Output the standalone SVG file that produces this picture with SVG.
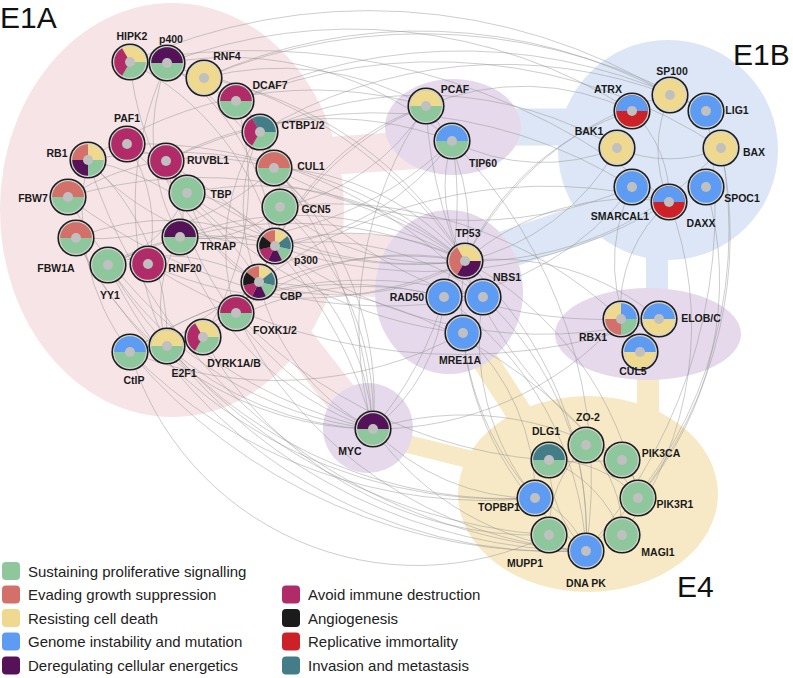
<svg xmlns="http://www.w3.org/2000/svg" xmlns:xlink="http://www.w3.org/1999/xlink" width="793" height="678" viewBox="0 0 793 678">
<style>
.lbl{font-family:"Liberation Sans",Arial,sans-serif;font-weight:bold;font-size:10.5px;fill:#1a1a1a;text-anchor:middle}
.big{font-family:"Liberation Sans",Arial,sans-serif;font-size:30px;fill:#111}
.leg{font-family:"Liberation Sans",Arial,sans-serif;font-size:15px;fill:#222}
.rim{fill:#d4d4d4;stroke:#1e1e1e;stroke-width:1.6}
.dot{fill:#c0c0c0}
#edges path{fill:none;stroke:#8f8f8f;stroke-width:0.6;stroke-opacity:0.75}
.G{fill:#8ec79c}.S{fill:#d4706a}.Y{fill:#efd98f}.B{fill:#5e9cf4}.P{fill:#561259}.M{fill:#b02b68}.K{fill:#1b1b1b}.R{fill:#cc2127}.T{fill:#437d87}
.pk{fill:#f7e4e6}.pks{stroke:#f7e4e6;fill:none;stroke-linecap:round}
.bl{fill:#dce6f6}.bls{stroke:#dce6f6;fill:none;stroke-linecap:round}
.yl{fill:#f7e9c6}.yls{stroke:#f7e9c6;fill:none;stroke-linecap:round}
.pu{fill:#e5d9eb}
</style>
<defs>
<circle id="f" r="15.8"/>
<path id="h" d="M-15.8 0A15.8 15.8 0 0 1 15.8 0Z"/>
<path id="t" d="M0 0L-7.9 -13.68A15.8 15.8 0 0 1 15.8 0Z"/>
<path id="q" d="M0 0L-15.8 0A15.8 15.8 0 0 1 0 -15.8Z"/>
<path id="s" d="M0 0L-12.35 -9.85A15.8 15.8 0 0 1 0 -15.8Z"/>
</defs>
<rect width="793" height="678" fill="#ffffff"/>
<g id="background">
<ellipse class="pk" cx="172" cy="210" rx="172" ry="207"/>
<path class="pks" d="M300 158 L415 150" stroke-width="38"/>
<path class="pks" d="M310 262 L410 268" stroke-width="62"/>
<path class="pks" d="M285 325 L355 415" stroke-width="34"/>
<circle class="bl" cx="668" cy="150" r="110"/>
<path class="bls" d="M575 127 L500 127" stroke-width="37"/>
<path class="bls" d="M600 218 L505 250" stroke-width="38"/>
<path class="bls" d="M657 250 L657 300" stroke-width="22"/>
<ellipse class="yl" cx="588" cy="494" rx="130" ry="98"/>
<path class="yls" d="M400 442 L480 462" stroke-width="18"/>
<path class="yls" d="M475 345 L530 430" stroke-width="26"/>
<path class="yls" d="M648 370 L648 420" stroke-width="22"/>
<ellipse class="pu" cx="453" cy="127" rx="68" ry="48"/>
<ellipse class="pu" cx="449" cy="292" rx="74" ry="82"/>
<ellipse class="pu" cx="648" cy="334" rx="93" ry="46"/>
<circle class="pu" cx="368" cy="428" r="45"/>
</g>
<g id="edges">
<path d="M130 62A280 280 0 0 1 275 246"/>
<path d="M130 62A300 300 0 0 0 259 282"/>
<path d="M130 62A450 450 0 0 1 465 261"/>
<path d="M130 62A180 180 0 0 1 260 132"/>
<path d="M130 62A650 650 0 0 1 669 202"/>
<path d="M167 63A200 200 0 0 0 180 237"/>
<path d="M167 63A480 480 0 0 1 373 429"/>
<path d="M167 63A250 250 0 0 1 275 246"/>
<path d="M167 63A330 330 0 0 0 167 346"/>
<path d="M167 63A340 340 0 0 1 452 141"/>
<path d="M204 78A380 380 0 0 1 465 261"/>
<path d="M204 78A300 300 0 0 1 426 106"/>
<path d="M204 78A520 520 0 0 1 670 95"/>
<path d="M236 101A280 280 0 0 1 203 337"/>
<path d="M236 101A100 100 0 0 1 274 168"/>
<path d="M260 132A140 140 0 0 1 275 246"/>
<path d="M260 132A180 180 0 0 0 259 282"/>
<path d="M260 132A210 210 0 0 0 236 313"/>
<path d="M274 168A430 430 0 0 0 621 319"/>
<path d="M274 168A250 250 0 0 0 68 197"/>
<path d="M274 168A260 260 0 0 1 76 238"/>
<path d="M274 168A320 320 0 0 1 373 429"/>
<path d="M274 168A260 260 0 0 1 465 261"/>
<path d="M127 144A150 150 0 0 1 148 264"/>
<path d="M127 144A400 400 0 0 0 465 261"/>
<path d="M127 144A420 420 0 0 1 373 429"/>
<path d="M88 160A240 240 0 0 1 167 346"/>
<path d="M88 160A250 250 0 0 0 275 246"/>
<path d="M88 160A260 260 0 0 1 259 282"/>
<path d="M88 160A450 450 0 0 1 465 261"/>
<path d="M88 160A400 400 0 0 1 426 106"/>
<path d="M166 161A380 380 0 0 0 373 429"/>
<path d="M166 161A90 90 0 0 1 180 237"/>
<path d="M166 161A340 340 0 0 1 452 141"/>
<path d="M166 161A360 360 0 0 0 465 261"/>
<path d="M187 193A130 130 0 0 1 275 246"/>
<path d="M187 193A140 140 0 0 0 259 282"/>
<path d="M187 193A330 330 0 0 1 465 261"/>
<path d="M187 193A130 130 0 0 1 108 265"/>
<path d="M68 197A460 460 0 0 0 373 429"/>
<path d="M68 197A460 460 0 0 1 465 261"/>
<path d="M280 207A120 120 0 0 1 180 237"/>
<path d="M280 207A280 280 0 0 1 373 429"/>
<path d="M280 207A240 240 0 0 0 465 261"/>
<path d="M280 207A220 220 0 0 0 426 106"/>
<path d="M76 238A240 240 0 0 1 275 246"/>
<path d="M180 237A340 340 0 0 0 452 141"/>
<path d="M180 237A310 310 0 0 0 373 429"/>
<path d="M180 237A330 330 0 0 1 465 261"/>
<path d="M180 237A130 130 0 0 0 167 346"/>
<path d="M275 246A250 250 0 0 1 426 106"/>
<path d="M275 246A240 240 0 0 1 465 261"/>
<path d="M275 246A260 260 0 0 0 452 141"/>
<path d="M275 246A250 250 0 0 1 373 429"/>
<path d="M275 246A180 180 0 0 1 167 346"/>
<path d="M275 246A200 200 0 0 0 108 265"/>
<path d="M275 246A460 460 0 0 0 669 202"/>
<path d="M275 246A260 260 0 0 1 483 297"/>
<path d="M108 265A180 180 0 0 1 259 282"/>
<path d="M108 265A370 370 0 0 0 373 429"/>
<path d="M108 265A420 420 0 0 1 465 261"/>
<path d="M148 264A370 370 0 0 0 465 261"/>
<path d="M259 282A250 250 0 0 0 465 261"/>
<path d="M259 282A290 290 0 0 1 426 106"/>
<path d="M259 282A220 220 0 0 0 373 429"/>
<path d="M259 282A140 140 0 0 1 167 346"/>
<path d="M259 282A480 480 0 0 1 669 202"/>
<path d="M236 313A280 280 0 0 1 465 261"/>
<path d="M167 346A460 460 0 0 0 535 498"/>
<path d="M167 346A360 360 0 0 1 465 261"/>
<path d="M130 352A420 420 0 0 1 483 297"/>
<path d="M130 352A390 390 0 0 0 463 333"/>
<path d="M130 352A380 380 0 0 1 444 297"/>
<path d="M130 352A230 230 0 0 1 88 160"/>
<path d="M130 352A500 500 0 0 0 535 498"/>
<path d="M426 106A190 190 0 0 1 465 261"/>
<path d="M426 106A390 390 0 0 0 373 429"/>
<path d="M452 141A150 150 0 0 0 465 261"/>
<path d="M452 141A350 350 0 0 1 373 429"/>
<path d="M465 261A250 250 0 0 1 669 202"/>
<path d="M465 261A330 330 0 0 0 721 148"/>
<path d="M465 261A230 230 0 0 0 617 148"/>
<path d="M465 261A310 310 0 0 1 670 95"/>
<path d="M465 261A340 340 0 0 1 638 498"/>
<path d="M465 261A370 370 0 0 1 586 551"/>
<path d="M465 261A290 290 0 0 0 535 498"/>
<path d="M465 261A250 250 0 0 1 659 319"/>
<path d="M465 261A270 270 0 0 1 632 111"/>
<path d="M632 111A120 120 0 0 1 669 202"/>
<path d="M670 95A130 130 0 0 0 669 202"/>
<path d="M706 111A520 520 0 0 1 586 551"/>
<path d="M721 148A420 420 0 0 1 638 498"/>
<path d="M617 148A130 130 0 0 0 721 148"/>
<path d="M632 187A280 280 0 0 1 444 297"/>
<path d="M483 297A250 250 0 0 0 535 498"/>
<path d="M483 297A320 320 0 0 1 586 551"/>
<path d="M463 333A300 300 0 0 0 586 551"/>
<path d="M444 297A330 330 0 0 1 586 551"/>
<path d="M621 319A60 60 0 0 1 640 352"/>
<path d="M621 319A60 60 0 0 0 659 319"/>
<path d="M621 319A330 330 0 0 1 373 429"/>
<path d="M373 429A220 220 0 0 0 535 498"/>
<path d="M373 429A290 290 0 0 0 586 551"/>
<path d="M373 429A300 300 0 0 1 622 460"/>
<path d="M549 460A120 120 0 0 1 638 498"/>
<path d="M586 445A120 120 0 0 0 549 535"/>
<path d="M586 445A120 120 0 0 1 622 535"/>
<path d="M622 460A60 60 0 0 1 638 498"/>
<path d="M622 535A130 130 0 0 0 549 460"/>
<path d="M535 498A90 90 0 0 1 586 551"/>
<path d="M586 551A130 130 0 0 1 549 460"/>
<path d="M130 352A560 560 0 0 0 586 551"/>
<path d="M167 346A540 540 0 0 0 586 551"/>
<path d="M108 265A560 560 0 0 0 549 535"/>
<path d="M236 313A480 480 0 0 0 622 460"/>
<path d="M259 282A480 480 0 0 1 638 498"/>
<path d="M275 246A450 450 0 0 0 659 319"/>
<path d="M148 264A580 580 0 0 0 659 319"/>
<path d="M280 207A420 420 0 0 1 621 319"/>
<path d="M426 106A250 250 0 0 1 632 111"/>
<path d="M452 141A200 200 0 0 0 617 148"/>
<path d="M260 132A470 470 0 0 1 670 95"/>
<path d="M236 101A530 530 0 0 1 706 111"/>
<path d="M463 333A220 220 0 0 1 535 498"/>
<path d="M444 297A180 180 0 0 1 373 429"/>
<path d="M452 141A480 480 0 0 1 586 551"/>
<path d="M426 106A460 460 0 0 0 622 460"/>
<path d="M167 63A520 520 0 0 1 632 111"/>
<path d="M204 78A560 560 0 0 1 706 111"/>
<path d="M130 62A580 580 0 0 1 670 95"/>
<path d="M236 101A520 520 0 0 1 721 148"/>
<path d="M76 238A480 480 0 0 0 535 498"/>
<path d="M88 160A560 560 0 0 0 586 551"/>
<path d="M108 265A500 500 0 0 0 586 551"/>
<path d="M203 337A380 380 0 0 0 549 535"/>
<path d="M236 313A420 420 0 0 0 586 551"/>
<path d="M130 352A300 300 0 0 0 549 535"/>
<path d="M706 187A330 330 0 0 1 638 498"/>
<path d="M669 202A350 350 0 0 1 622 535"/>
<path d="M721 148A430 430 0 0 1 586 551"/>
<path d="M632 187A170 170 0 0 0 640 352"/>
<path d="M669 202A140 140 0 0 0 621 319"/>
<path d="M203 337A290 290 0 0 1 444 297"/>
<path d="M167 346A320 320 0 0 0 373 429"/>
<path d="M76 238A330 330 0 0 0 373 429"/>
<path d="M68 197A520 520 0 0 0 483 297"/>
<path d="M127 144A460 460 0 0 1 483 297"/>
<path d="M187 193A440 440 0 0 0 463 333"/>
<path d="M166 161A480 480 0 0 1 632 187"/>
<path d="M260 132A380 380 0 0 1 617 148"/>
<path d="M274 168A400 400 0 0 0 632 187"/>
</g>
<g id="nodes">
<g id="node-HIPK2"><g transform="translate(130 62)"><circle class="rim" r="17.8"/><use href="#t" class="Y"/><use href="#t" class="G" transform="rotate(120)"/><use href="#t" class="M" transform="rotate(240)"/><circle class="dot" r="5"/></g><text class="lbl" x="132" y="40">HIPK2</text></g>
<g id="node-p400"><g transform="translate(167 63)"><circle class="rim" r="17.8"/><use href="#f" class="G"/><use href="#h" class="P"/><circle class="dot" r="5"/></g><text class="lbl" x="171" y="43">p400</text></g>
<g id="node-RNF4"><g transform="translate(204 78)"><circle class="rim" r="17.8"/><use href="#f" class="Y"/><circle class="dot" r="5"/></g><text class="lbl" x="227" y="60">RNF4</text></g>
<g id="node-DCAF7"><g transform="translate(236 101)"><circle class="rim" r="17.8"/><use href="#f" class="G"/><use href="#h" class="M"/><circle class="dot" r="5"/></g><text class="lbl" x="270" y="89">DCAF7</text></g>
<g id="node-CTBP1-2"><g transform="translate(260 132)"><circle class="rim" r="17.8"/><use href="#t" class="T"/><use href="#t" class="G" transform="rotate(120)"/><use href="#t" class="M" transform="rotate(240)"/><circle class="dot" r="5"/></g><text class="lbl" x="303" y="129">CTBP1/2</text></g>
<g id="node-CUL1"><g transform="translate(274 168)"><circle class="rim" r="17.8"/><use href="#f" class="G"/><use href="#h" class="S"/><circle class="dot" r="5"/></g><text class="lbl" x="311" y="170">CUL1</text></g>
<g id="node-PAF1"><g transform="translate(127 144)"><circle class="rim" r="17.8"/><use href="#f" class="M"/><circle class="dot" r="5"/></g><text class="lbl" x="127" y="122">PAF1</text></g>
<g id="node-RB1"><g transform="translate(88 160)"><circle class="rim" r="17.8"/><use href="#q" class="S"/><use href="#q" class="Y" transform="rotate(90)"/><use href="#q" class="G" transform="rotate(180)"/><use href="#q" class="P" transform="rotate(270)"/><circle class="dot" r="5"/></g><text class="lbl" x="57" y="157">RB1</text></g>
<g id="node-RUVBL1"><g transform="translate(166 161)"><circle class="rim" r="17.8"/><use href="#f" class="M"/><circle class="dot" r="5"/></g><text class="lbl" x="208" y="164">RUVBL1</text></g>
<g id="node-TBP"><g transform="translate(187 193)"><circle class="rim" r="17.8"/><use href="#f" class="G"/><circle class="dot" r="5"/></g><text class="lbl" x="221" y="198">TBP</text></g>
<g id="node-FBW7"><g transform="translate(68 197)"><circle class="rim" r="17.8"/><use href="#f" class="G"/><use href="#h" class="S"/><circle class="dot" r="5"/></g><text class="lbl" x="33" y="202">FBW7</text></g>
<g id="node-GCN5"><g transform="translate(280 207)"><circle class="rim" r="17.8"/><use href="#f" class="G"/><circle class="dot" r="5"/></g><text class="lbl" x="316" y="213">GCN5</text></g>
<g id="node-FBW1A"><g transform="translate(76 238)"><circle class="rim" r="17.8"/><use href="#f" class="G"/><use href="#h" class="S"/><circle class="dot" r="5"/></g><text class="lbl" x="56" y="272">FBW1A</text></g>
<g id="node-TRRAP"><g transform="translate(180 237)"><circle class="rim" r="17.8"/><use href="#f" class="G"/><use href="#h" class="P"/><circle class="dot" r="5"/></g><text class="lbl" x="218" y="250">TRRAP</text></g>
<g id="node-p300"><g transform="translate(275 246)"><circle class="rim" r="17.8"/><use href="#s" class="S"/><use href="#s" class="Y" transform="rotate(51.4286)"/><use href="#s" class="T" transform="rotate(102.857)"/><use href="#s" class="G" transform="rotate(154.286)"/><use href="#s" class="P" transform="rotate(205.714)"/><use href="#s" class="M" transform="rotate(257.143)"/><use href="#s" class="K" transform="rotate(308.571)"/><circle class="dot" r="5"/></g><text class="lbl" x="306" y="264">p300</text></g>
<g id="node-YY1"><g transform="translate(108 265)"><circle class="rim" r="17.8"/><use href="#f" class="G"/><circle class="dot" r="5"/></g><text class="lbl" x="110" y="299">YY1</text></g>
<g id="node-RNF20"><g transform="translate(148 264)"><circle class="rim" r="17.8"/><use href="#f" class="M"/><circle class="dot" r="5"/></g><text class="lbl" x="185" y="272">RNF20</text></g>
<g id="node-CBP"><g transform="translate(259 282)"><circle class="rim" r="17.8"/><use href="#s" class="S"/><use href="#s" class="Y" transform="rotate(51.4286)"/><use href="#s" class="T" transform="rotate(102.857)"/><use href="#s" class="G" transform="rotate(154.286)"/><use href="#s" class="P" transform="rotate(205.714)"/><use href="#s" class="M" transform="rotate(257.143)"/><use href="#s" class="K" transform="rotate(308.571)"/><circle class="dot" r="5"/></g><text class="lbl" x="291" y="300">CBP</text></g>
<g id="node-FOXK1-2"><g transform="translate(236 313)"><circle class="rim" r="17.8"/><use href="#f" class="G"/><use href="#h" class="M"/><circle class="dot" r="5"/></g><text class="lbl" x="275" y="334">FOXK1/2</text></g>
<g id="node-DYRK1A-B"><g transform="translate(203 337)"><circle class="rim" r="17.8"/><use href="#t" class="Y"/><use href="#t" class="G" transform="rotate(120)"/><use href="#t" class="M" transform="rotate(240)"/><circle class="dot" r="5"/></g><text class="lbl" x="234" y="367">DYRK1A/B</text></g>
<g id="node-E2F1"><g transform="translate(167 346)"><circle class="rim" r="17.8"/><use href="#f" class="G"/><use href="#h" class="Y"/><circle class="dot" r="5"/></g><text class="lbl" x="184" y="377">E2F1</text></g>
<g id="node-CtIP"><g transform="translate(130 352)"><circle class="rim" r="17.8"/><use href="#f" class="G"/><use href="#h" class="B"/><circle class="dot" r="5"/></g><text class="lbl" x="134" y="384">CtIP</text></g>
<g id="node-PCAF"><g transform="translate(426 106)"><circle class="rim" r="17.8"/><use href="#f" class="G"/><use href="#h" class="Y"/><circle class="dot" r="5"/></g><text class="lbl" x="455" y="93">PCAF</text></g>
<g id="node-TIP60"><g transform="translate(452 141)"><circle class="rim" r="17.8"/><use href="#f" class="G"/><use href="#h" class="B"/><circle class="dot" r="5"/></g><text class="lbl" x="483" y="167">TIP60</text></g>
<g id="node-SP100"><g transform="translate(670 95)"><circle class="rim" r="17.8"/><use href="#f" class="Y"/><circle class="dot" r="5"/></g><text class="lbl" x="672" y="75">SP100</text></g>
<g id="node-ATRX"><g transform="translate(632 111)"><circle class="rim" r="17.8"/><use href="#f" class="R"/><use href="#h" class="B"/><circle class="dot" r="5"/></g><text class="lbl" x="608" y="93">ATRX</text></g>
<g id="node-LIG1"><g transform="translate(706 111)"><circle class="rim" r="17.8"/><use href="#f" class="B"/><circle class="dot" r="5"/></g><text class="lbl" x="737" y="114">LIG1</text></g>
<g id="node-BAK1"><g transform="translate(617 148)"><circle class="rim" r="17.8"/><use href="#f" class="Y"/><circle class="dot" r="5"/></g><text class="lbl" x="589" y="135">BAK1</text></g>
<g id="node-BAX"><g transform="translate(721 148)"><circle class="rim" r="17.8"/><use href="#f" class="Y"/><circle class="dot" r="5"/></g><text class="lbl" x="754" y="156">BAX</text></g>
<g id="node-SMARCAL1"><g transform="translate(632 187)"><circle class="rim" r="17.8"/><use href="#f" class="B"/><circle class="dot" r="5"/></g><text class="lbl" x="620" y="220">SMARCAL1</text></g>
<g id="node-SPOC1"><g transform="translate(706 187)"><circle class="rim" r="17.8"/><use href="#f" class="B"/><circle class="dot" r="5"/></g><text class="lbl" x="742" y="202">SPOC1</text></g>
<g id="node-DAXX"><g transform="translate(669 202)"><circle class="rim" r="17.8"/><use href="#f" class="R"/><use href="#h" class="B"/><circle class="dot" r="5"/></g><text class="lbl" x="701" y="227">DAXX</text></g>
<g id="node-TP53"><g transform="translate(465 261)"><circle class="rim" r="17.8"/><use href="#t" class="Y"/><use href="#t" class="P" transform="rotate(120)"/><use href="#t" class="S" transform="rotate(240)"/><circle class="dot" r="5"/></g><text class="lbl" x="468" y="237">TP53</text></g>
<g id="node-RAD50"><g transform="translate(444 297)"><circle class="rim" r="17.8"/><use href="#f" class="B"/><circle class="dot" r="5"/></g><text class="lbl" x="407" y="301">RAD50</text></g>
<g id="node-NBS1"><g transform="translate(483 297)"><circle class="rim" r="17.8"/><use href="#f" class="B"/><circle class="dot" r="5"/></g><text class="lbl" x="507" y="281">NBS1</text></g>
<g id="node-MRE11A"><g transform="translate(463 333)"><circle class="rim" r="17.8"/><use href="#f" class="B"/><circle class="dot" r="5"/></g><text class="lbl" x="460" y="364">MRE11A</text></g>
<g id="node-RBX1"><g transform="translate(621 319)"><circle class="rim" r="17.8"/><use href="#q" class="Y"/><use href="#q" class="B" transform="rotate(90)"/><use href="#q" class="G" transform="rotate(180)"/><use href="#q" class="S" transform="rotate(270)"/><circle class="dot" r="5"/></g><text class="lbl" x="593" y="341">RBX1</text></g>
<g id="node-ELOB-C"><g transform="translate(659 319)"><circle class="rim" r="17.8"/><use href="#f" class="Y"/><use href="#h" class="B"/><circle class="dot" r="5"/></g><text class="lbl" x="701" y="322">ELOB/C</text></g>
<g id="node-CUL5"><g transform="translate(640 352)"><circle class="rim" r="17.8"/><use href="#f" class="Y"/><use href="#h" class="B"/><circle class="dot" r="5"/></g><text class="lbl" x="633" y="375">CUL5</text></g>
<g id="node-MYC"><g transform="translate(373 429)"><circle class="rim" r="17.8"/><use href="#f" class="G"/><use href="#h" class="P"/><circle class="dot" r="5"/></g><text class="lbl" x="350" y="455">MYC</text></g>
<g id="node-ZO-2"><g transform="translate(586 445)"><circle class="rim" r="17.8"/><use href="#f" class="G"/><circle class="dot" r="5"/></g><text class="lbl" x="588" y="421">ZO-2</text></g>
<g id="node-DLG1"><g transform="translate(549 460)"><circle class="rim" r="17.8"/><use href="#f" class="G"/><use href="#h" class="T"/><circle class="dot" r="5"/></g><text class="lbl" x="546" y="435">DLG1</text></g>
<g id="node-PIK3CA"><g transform="translate(622 460)"><circle class="rim" r="17.8"/><use href="#f" class="G"/><circle class="dot" r="5"/></g><text class="lbl" x="661" y="457">PIK3CA</text></g>
<g id="node-TOPBP1"><g transform="translate(535 498)"><circle class="rim" r="17.8"/><use href="#f" class="B"/><circle class="dot" r="5"/></g><text class="lbl" x="499" y="511">TOPBP1</text></g>
<g id="node-PIK3R1"><g transform="translate(638 498)"><circle class="rim" r="17.8"/><use href="#f" class="G"/><circle class="dot" r="5"/></g><text class="lbl" x="675" y="508">PIK3R1</text></g>
<g id="node-MUPP1"><g transform="translate(549 535)"><circle class="rim" r="17.8"/><use href="#f" class="G"/><circle class="dot" r="5"/></g><text class="lbl" x="525" y="567">MUPP1</text></g>
<g id="node-MAGI1"><g transform="translate(622 535)"><circle class="rim" r="17.8"/><use href="#f" class="G"/><circle class="dot" r="5"/></g><text class="lbl" x="658" y="556">MAGI1</text></g>
<g id="node-DNAPK"><g transform="translate(586 551)"><circle class="rim" r="17.8"/><use href="#f" class="B"/><circle class="dot" r="5"/></g><text class="lbl" x="586" y="587">DNA PK</text></g>
</g>
<g id="group-labels">
<text class="big" x="0" y="28">E1A</text>
<text class="big" x="733" y="65">E1B</text>
<text class="big" x="677" y="597">E4</text>
</g>
<g id="legend">
<rect x="2" y="562" width="18" height="18" rx="4" class="G"/><text class="leg" x="28" y="576.5">Sustaining proliferative signalling</text>
<rect x="2" y="585.5" width="18" height="18" rx="4" class="S"/><text class="leg" x="28" y="600">Evading growth suppression</text>
<rect x="2" y="609" width="18" height="18" rx="4" class="Y"/><text class="leg" x="28" y="623.5">Resisting cell death</text>
<rect x="2" y="632.5" width="18" height="18" rx="4" class="B"/><text class="leg" x="28" y="647">Genome instability and mutation</text>
<rect x="2" y="656.5" width="18" height="18" rx="4" class="P"/><text class="leg" x="28" y="671">Deregulating cellular energetics</text>
<rect x="282" y="585.5" width="18" height="18" rx="4" class="M"/><text class="leg" x="308" y="600">Avoid immune destruction</text>
<rect x="282" y="609" width="18" height="18" rx="4" class="K"/><text class="leg" x="308" y="623.5">Angiogenesis</text>
<rect x="282" y="632.5" width="18" height="18" rx="4" class="R"/><text class="leg" x="308" y="647">Replicative immortality</text>
<rect x="282" y="656.5" width="18" height="18" rx="4" class="T"/><text class="leg" x="308" y="671">Invasion and metastasis</text>
</g>
</svg>
